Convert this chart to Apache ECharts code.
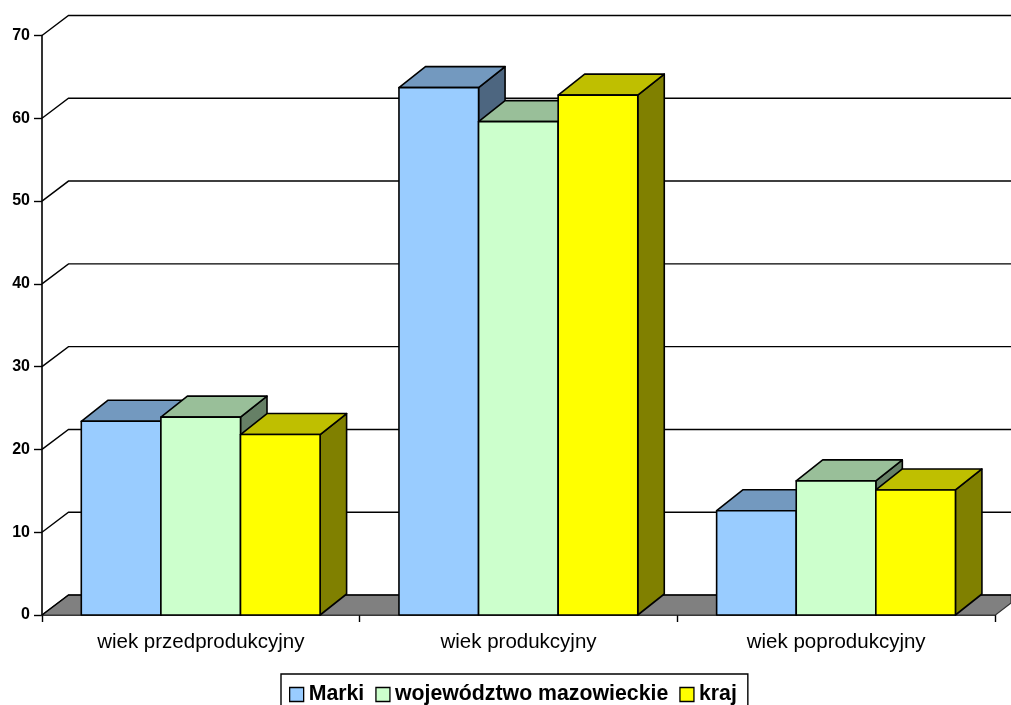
<!DOCTYPE html>
<html><head><meta charset="utf-8">
<style>html,body{margin:0;padding:0;background:#fff;overflow:hidden}#c{width:1011px;height:705px}</style>
<script src="https://cdn.jsdelivr.net/npm/echarts@6/dist/echarts.min.js"></script>
</head><body><div id="c"></div>
<script>
const categories = ['wiek przedprodukcyjny', 'wiek produkcyjny', 'wiek poprodukcyjny'];
const marki = [23.4, 63.7, 12.6];
const mazowieckie = [23.9, 59.6, 16.2];
const kraj = [21.8, 62.8, 15.1];
const yTicks = [0, 10, 20, 30, 40, 50, 60, 70];
const seriesNames = ['Marki', 'województwo mazowieckie', 'kraj'];

const DX = 26.5, DY = -20, BAR_DY = -21, BAR = 79.6, INSET = 39.3, OUT = '#000';
const palette = [
  {front: '#99ccff', top: '#7399bf', side: '#4d6680'},
  {front: '#ccffcc', top: '#99bf99', side: '#668066'},
  {front: '#ffff00', top: '#bfbf00', side: '#808000'}
];
const poly = (pts, fill) => ({type: 'polygon', shape: {points: pts},
  style: {fill, stroke: OUT, lineWidth: 1.6, lineJoin: 'round'}});

function barSeries(name, values, idx) {
  return {
    name, type: 'custom', coordinateSystem: 'cartesian2d', z: 5 + idx,
    data: values.map((v, i) => [i, v]), encode: {x: 0, y: 1},
    itemStyle: {color: palette[idx].front, borderColor: OUT, borderWidth: 1},
    clip: false,
    renderItem(params, api) {
      const band = api.size([1, 0])[0];
      const c = api.coord([api.value(0), api.value(1)]);
      const b = api.coord([api.value(0), 0]);
      const x0 = c[0] - band / 2 + INSET + idx * BAR, x1 = x0 + BAR;
      const y = c[1], y0 = b[1];
      return {type: 'group', children: [
        poly([[x1, y], [x1 + DX, y + BAR_DY], [x1 + DX, y0 + BAR_DY], [x1, y0]], palette[idx].side),
        poly([[x0, y], [x0 + DX, y + BAR_DY], [x1 + DX, y + BAR_DY], [x1, y]], palette[idx].top),
        poly([[x0, y], [x1, y], [x1, y0], [x0, y0]], palette[idx].front)
      ]};
    }
  };
}

const wall = {
  type: 'custom', coordinateSystem: 'cartesian2d', z: 1, silent: true, clip: false,
  legendHoverLink: false, tooltip: {show: false},
  data: yTicks.map(v => [v]), encode: {y: 0},
  renderItem(params, api) {
    const v = api.value(0);
    const p = api.coord([0, v]);
    const left = p[0] - api.size([1, 0])[0] / 2;
    const right = 1011;
    const y = p[1];
    const line = {type: 'polyline', shape: {points: [[left, y], [left + DX, y + DY], [right, y + DY]]},
      style: {fill: null, stroke: '#000', lineWidth: 1.4}};
    if (v !== 0) return line;
    return {type: 'group', children: [
      {type: 'polygon', shape: {points: [[left, y], [left + DX, y + DY], [right, y + DY], [right, y - 12], [995.5, y]]},
       style: {fill: '#808080', stroke: '#333', lineWidth: 1.2}},
      line
    ]};
  }
};

const chart = echarts.init(document.getElementById('c'), null, {renderer: 'canvas'});
chart.setOption({
  animation: false,
  backgroundColor: '#fff',
  textStyle: {fontFamily: '"Liberation Sans", Arial, sans-serif'},
  legend: {
    left: 281, top: 674, orient: 'horizontal',
    backgroundColor: '#fff', borderColor: '#000', borderWidth: 1.4, borderRadius: 0,
    padding: [10, 11, 3, 8], itemGap: 11, itemWidth: 14, itemHeight: 14,
    textStyle: {fontFamily: '"Liberation Sans", Arial, sans-serif', fontWeight: 'bold', fontSize: 21.3, color: '#000'},
    data: seriesNames.map((n, i) => ({name: n, icon: 'rect',
      itemStyle: {color: palette[i].front, borderColor: '#000', borderWidth: 1.3}}))
  },
  grid: {left: 42, right: 16, top: 35.5, height: 579.5, containLabel: false},
  xAxis: {
    type: 'category', data: categories, boundaryGap: true,
    axisLine: {show: true, lineStyle: {color: '#000', width: 1.6}},
    axisTick: {show: true, inside: false, length: 7, lineStyle: {color: '#000', width: 1.4}},
    axisLabel: {color: '#000', fontSize: 20.5, margin: 17},
    splitLine: {show: false}
  },
  yAxis: {
    type: 'value', min: 0, max: 70, interval: 10,
    axisLine: {show: true, lineStyle: {color: '#000', width: 1.6}},
    axisTick: {show: true, length: 8, lineStyle: {color: '#000', width: 1.4}},
    axisLabel: {color: '#000', fontWeight: 'bold', fontSize: 16, margin: 12},
    splitLine: {show: false}
  },
  series: [
    wall,
    barSeries(seriesNames[0], marki, 0),
    barSeries(seriesNames[1], mazowieckie, 1),
    barSeries(seriesNames[2], kraj, 2)
  ]
});
</script></body></html>
